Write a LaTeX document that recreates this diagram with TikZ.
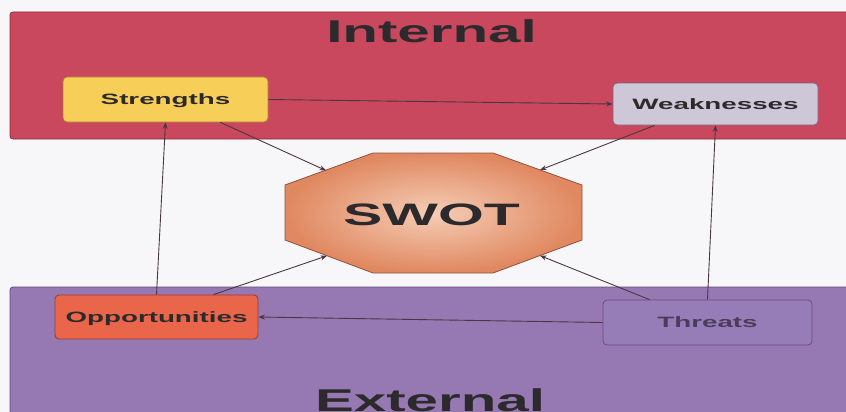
\documentclass[tikz,border=0pt]{standalone}
\usepackage{fontspec}
\setmainfont{Liberation Sans}
\usetikzlibrary{arrows.meta}
\definecolor{bg}{RGB}{247,247,249}
\definecolor{intc}{RGB}{201,72,94}
\definecolor{intb}{RGB}{140,45,62}
\definecolor{extc}{RGB}{150,121,178}
\definecolor{extb}{RGB}{96,74,122}
\definecolor{strc}{RGB}{247,207,88}
\definecolor{strb}{RGB}{170,120,60}
\definecolor{weakc}{RGB}{205,199,215}
\definecolor{weakb}{RGB}{120,100,120}
\definecolor{oppc}{RGB}{233,102,74}
\definecolor{oppb}{RGB}{150,60,50}
\definecolor{thrc}{RGB}{150,125,183}
\definecolor{thrb}{RGB}{115,70,130}
\definecolor{swin}{RGB}{245,205,182}
\definecolor{swout}{RGB}{224,136,96}
\definecolor{swb}{RGB}{150,80,60}
\definecolor{txt}{RGB}{45,42,45}
\definecolor{thrtxt}{RGB}{75,60,90}
\definecolor{arrc}{RGB}{75,55,65}
\begin{document}
\begin{tikzpicture}[x=1pt,y=-1pt,
  lab/.style={font=\bfseries\fontsize{15}{15}\selectfont, text=txt, text height=10.7pt, text depth=0pt},
  box/.style={rounded corners=4pt, line width=0.8pt, inner sep=0pt, minimum width=205pt, minimum height=44pt},
  big/.style={font=\bfseries\fontsize{31.5}{31.5}\selectfont, text=txt, anchor=base, inner sep=0pt},
  arr/.style={draw=arrc, line width=0.9pt, -{Stealth[length=6.5pt,width=5pt]}}
]
\useasboundingbox[fill=bg] (0,0) rectangle (846,412);
% bands
\draw[fill=intc, draw=intb, line width=0.8pt, rounded corners=3pt] (10,12) rectangle (860,139);
\draw[fill=extc, draw=extb, line width=0.8pt, rounded corners=3pt] (10,287) rectangle (860,420);
\node[big] (internal) at (431.5,43) {\scalebox{1.85}[1]{Internal}};
\node[big] (external) at (430,411) {\scalebox{1.85}[1]{External}};
% boxes
\node[box, lab, fill=strc, draw=strb, minimum height=45pt] (str) at (165.5,99.5) {\scalebox{1.85}[1]{Strengths}};
\node[box, lab, fill=weakc, draw=weakb, minimum height=42pt] (weak) at (715.5,104) {\scalebox{1.85}[1]{Weaknesses}};
\node[box, lab, fill=oppc, draw=oppb, minimum width=203pt] (opp) at (156.5,317) {\scalebox{1.85}[1]{Opportunities}};
\node[box, lab, fill=thrc, draw=thrb, minimum width=209pt, minimum height=45pt, text=thrtxt] (thr) at (707.5,322.5) {\scalebox{1.85}[1]{Threats}};
% octagon
\shade[inner color=swin, outer color=swout, draw=swb, line width=0.8pt]
  (373,153) -- (493,153) -- (582,185) -- (582,240) -- (493,273) -- (373,273) -- (285,240) -- (285,185) -- cycle;
\node[font=\bfseries\fontsize{31}{31}\selectfont, text=txt, anchor=base, inner sep=0pt] (swot) at (431.5,225) {\scalebox{1.9}[1]{SWOT}};
\coordinate (swUL) at (326,170.5);
\coordinate (swUR) at (540,170);
\coordinate (swLL) at (327,255.8);
\coordinate (swLR) at (540,255.6);
% connectors
\draw[arr] (str.east) -- (weak.west);
\draw[arr] (thr.west) -- (opp.east);
\draw[arr] (opp.north) -- (str.south);
\draw[arr] (thr.north) -- (weak.south);
\draw[arr] ([xshift=-48pt]str.south east) -- (swUL);
\draw[arr] ([xshift=42pt]weak.south west) -- (swUR);
\draw[arr] ([xshift=-45pt]opp.north east) -- (swLL);
\draw[arr] ([xshift=47pt]thr.north west) -- (swLR);
\end{tikzpicture}
\end{document}
